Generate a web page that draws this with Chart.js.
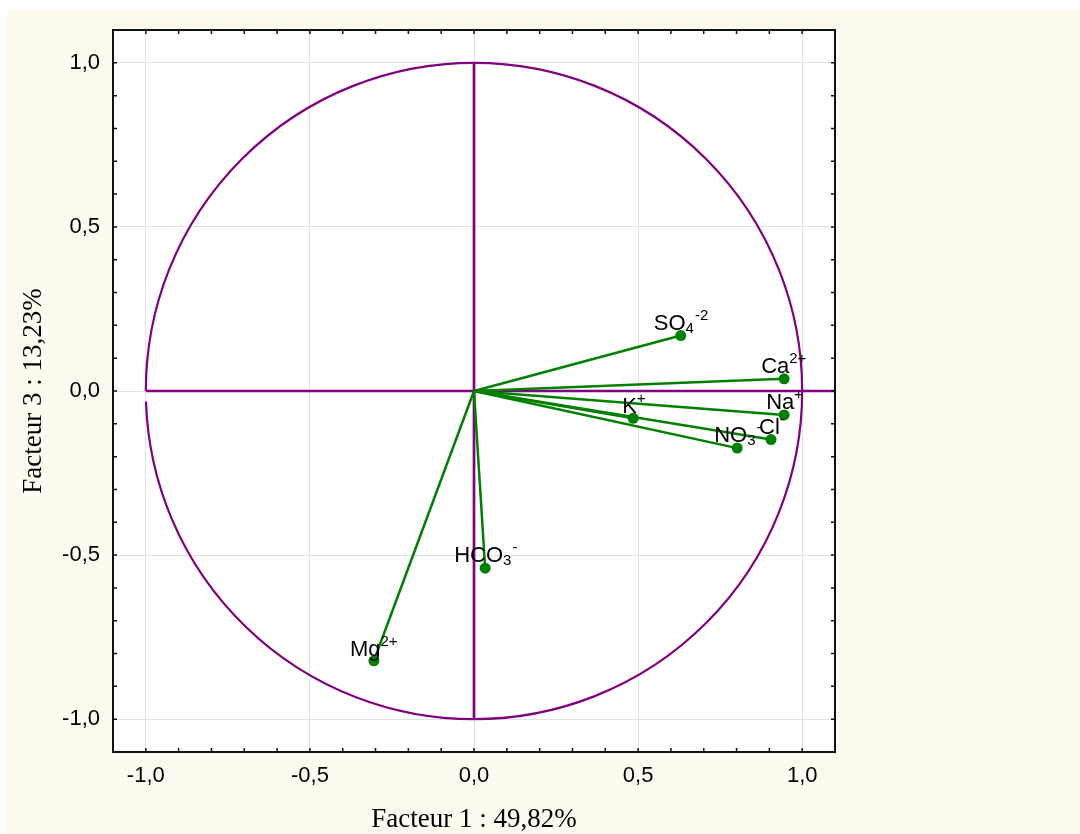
<!DOCTYPE html>
<html lang="fr">
<head>
<meta charset="UTF-8">
<title>ACP - Facteur 1 / Facteur 3</title>
<script src="https://cdn.jsdelivr.net/npm/chart.js"></script>
<style>
  html, body { margin: 0; padding: 0; background: #fff; }
  canvas { display: block; }
</style>
</head>
<body>
<canvas id="acp" width="1080" height="834"></canvas>
<script>
  // loadings of each ion on factor 1 (x) and factor 3 (y)
  const ions = ['SO4-2', 'Ca2+', 'Na+', 'Cl-', 'NO3-', 'K+', 'HCO3-', 'Mg2+'];
  const factor1 = [0.630, 0.945, 0.945, 0.905, 0.802, 0.485, 0.034, -0.305];
  const factor3 = [0.169, 0.037, -0.073, -0.148, -0.174, -0.083, -0.540, -0.822];

  // label pieces: base text, subscript, superscript
  const labelBase = ['SO', 'Ca', 'Na', 'Cl', 'NO', 'K', 'HCO', 'Mg'];
  const labelSub  = ['4', '', '', '', '3', '', '3', ''];
  const labelSup  = ['-2', '2+', '+', '-', '-', '+', '-', '2+'];

  const tickValues = [-1.0, -0.5, 0.0, 0.5, 1.0];
  const minorTicks = [-1.0, -0.9, -0.8, -0.7, -0.6, -0.5, -0.4, -0.3, -0.2, -0.1, 0.0,
                      0.1, 0.2, 0.3, 0.4, 0.5, 0.6, 0.7, 0.8, 0.9, 1.0];

  // label placement (px from the point) - styling only
  const labelOffsets = [[-27, -6], [-23, -6], [-18, -6], [-12, -6], [-23, -6], [-11, -5], [-31, -6], [-24, -5]];

  const PURPLE = '#800080';
  const GREEN = '#008000';
  const SANS = '"Liberation Sans", Arial, sans-serif';
  const SERIF = '"Liberation Serif", "Times New Roman", serif';

  const fmt = v => v.toFixed(1).replace('.', ',');

  const acpPlugin = {
    id: 'acp',
    beforeDraw(chart) {
      const { ctx, chartArea: a } = chart;
      ctx.save();
      ctx.fillStyle = '#fff';
      ctx.fillRect(0, 0, chart.width, chart.height);
      ctx.fillStyle = '#fffaf0';
      ctx.fillRect(7, 10, chart.width - 7, chart.height - 10);
      ctx.fillStyle = '#fff';
      ctx.fillRect(a.left, a.top, a.right - a.left, a.bottom - a.top);
      ctx.restore();
    },
    beforeDatasetsDraw(chart) {
      const { ctx, scales: { x, y } } = chart;
      const cx = x.getPixelForValue(0), cy = y.getPixelForValue(0);
      const rx = x.getPixelForValue(1) - cx, ry = cy - y.getPixelForValue(1);
      ctx.save();
      ctx.strokeStyle = PURPLE;
      // correlation circle (small gap just below its left end, as in the original)
      ctx.lineWidth = 2.2;
      ctx.beginPath();
      ctx.ellipse(cx, cy, rx, ry, 0, Math.PI, 3 * Math.PI - 0.032);
      ctx.stroke();
      // axes through the origin
      ctx.lineWidth = 2.7;
      ctx.beginPath();
      ctx.moveTo(x.getPixelForValue(-1), cy);
      ctx.lineTo(x.getPixelForValue(x.max), cy);
      ctx.moveTo(cx, y.getPixelForValue(1));
      ctx.lineTo(cx, y.getPixelForValue(-1));
      ctx.stroke();
      ctx.restore();
    },
    afterDatasetsDraw(chart) {
      const { ctx, scales: { x, y } } = chart;
      ctx.save();
      ctx.fillStyle = '#000';
      ctx.textBaseline = 'alphabetic';
      ctx.textAlign = 'left';
      ions.forEach((name, i) => {
        let px = x.getPixelForValue(factor1[i]) + labelOffsets[i][0];
        const py = y.getPixelForValue(factor3[i]) + labelOffsets[i][1];
        ctx.font = '22px ' + SANS;
        ctx.fillText(labelBase[i], px, py);
        px += ctx.measureText(labelBase[i]).width;
        ctx.font = '15px ' + SANS;
        if (labelSub[i]) {
          ctx.fillText(labelSub[i], px, py + 3);
          px += ctx.measureText(labelSub[i]).width + 1;
        }
        if (labelSup[i]) ctx.fillText(labelSup[i], px, py - 10);
      });
      ctx.restore();
    },
    afterDraw(chart) {
      const { ctx, chartArea: a, scales: { x, y } } = chart;
      ctx.save();
      ctx.strokeStyle = '#111';
      ctx.lineWidth = 1.5;
      ctx.beginPath();
      minorTicks.forEach(v => {
        const px = x.getPixelForValue(v);
        const py = y.getPixelForValue(v);
        ctx.moveTo(px, a.bottom); ctx.lineTo(px, a.bottom - 4);
        ctx.moveTo(px, a.top); ctx.lineTo(px, a.top + 4);
        ctx.moveTo(a.left, py); ctx.lineTo(a.left + 4, py);
        ctx.moveTo(a.right, py); ctx.lineTo(a.right - 4, py);
      });
      ctx.stroke();
      ctx.lineWidth = 2;
      ctx.strokeRect(a.left, a.top, a.right - a.left, a.bottom - a.top);
      ctx.restore();
    }
  };

  const datasets = ions.map((name, i) => ({
    label: name,
    data: [{ x: 0, y: 0 }, { x: factor1[i], y: factor3[i] }],
    showLine: true,
    borderColor: GREEN,
    backgroundColor: GREEN,
    borderWidth: 2.5,
    pointRadius: [0, 5.5],
    pointHoverRadius: [0, 5.5],
    pointBorderWidth: 0
  }));

  const ctx = document.getElementById('acp').getContext('2d');
  new Chart(ctx, {
    type: 'scatter',
    data: { datasets },
    options: {
      responsive: false,
      animation: false,
      devicePixelRatio: 1,
      layout: { padding: { top: 30, right: 245, left: 0, bottom: 0 } },
      plugins: {
        legend: { display: false },
        tooltip: { enabled: false }
      },
      scales: {
        x: {
          type: 'linear',
          min: -1.1,
          max: 1.1,
          afterBuildTicks: s => { s.ticks = tickValues.map(v => ({ value: v })); },
          afterFit: s => { s.height = 82; },
          grid: { color: '#e2e2e2', lineWidth: 1, drawTicks: false },
          border: { display: false },
          ticks: {
            color: '#000',
            font: { family: SANS, size: 22 },
            padding: 11,
            maxRotation: 0,
            callback: v => fmt(v)
          },
          title: {
            display: true,
            text: 'Facteur 1 : 49,82%',
            color: '#000',
            font: { family: SERIF, size: 27, lineHeight: 1 },
            padding: { top: 0, bottom: 1 }
          }
        },
        y: {
          type: 'linear',
          min: -1.1,
          max: 1.1,
          afterBuildTicks: s => { s.ticks = tickValues.map(v => ({ value: v })); },
          afterFit: s => { s.width = 113; },
          grid: { color: '#e2e2e2', lineWidth: 1, drawTicks: false },
          border: { display: false },
          ticks: {
            color: '#000',
            font: { family: SANS, size: 22 },
            padding: 13,
            callback: v => fmt(v)
          },
          title: {
            display: true,
            text: 'Facteur 3 : 13,23%',
            color: '#000',
            font: { family: SERIF, size: 27, lineHeight: 1 },
            padding: { top: 20, bottom: 0 }
          }
        }
      }
    },
    plugins: [acpPlugin]
  });
</script>
</body>
</html>
